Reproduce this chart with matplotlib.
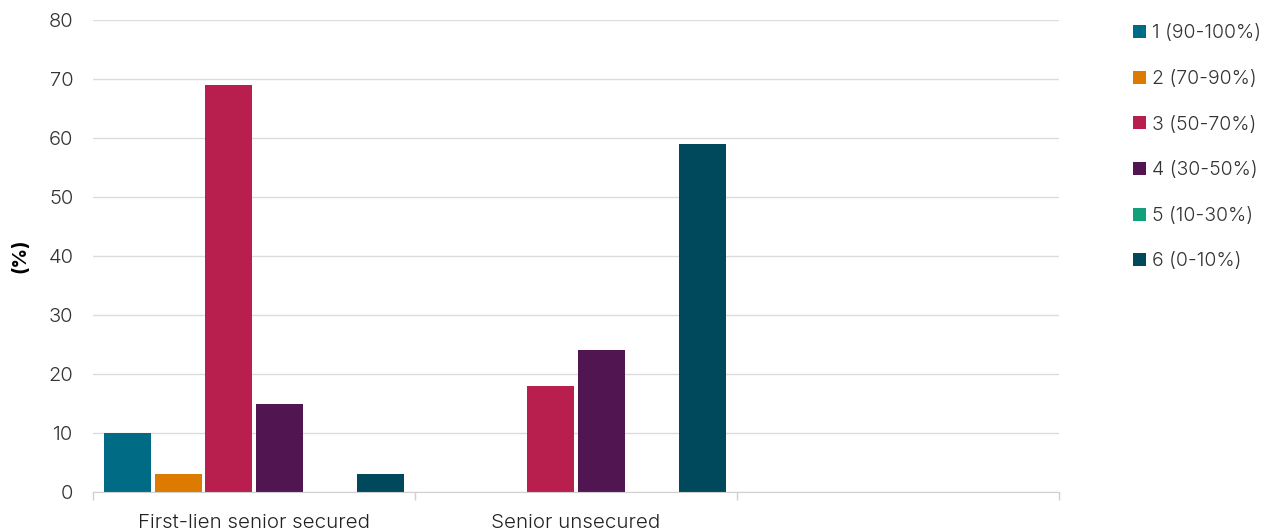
import matplotlib.pyplot as plt
import numpy as np

# recovery rating distribution by debt type
categories = ["First-lien senior secured", "Senior unsecured", ""]
series_names = ["1 (90-100%)", "2 (70-90%)", "3 (50-70%)", "4 (30-50%)", "5 (10-30%)", "6 (0-10%)"]
series_values = [
    [10, 0, 0],
    [3, 0, 0],
    [69, 18, 0],
    [15, 24, 0],
    [0, 0, 0],
    [3, 59, 0],
]
colors = ["#006b84", "#dd7a00", "#b81f4f", "#511552", "#11a07a", "#00495c"]
y_ticks = [0, 10, 20, 30, 40, 50, 60, 70, 80]

plt.rcParams["font.family"] = ["Inter", "DejaVu Sans"]
plt.rcParams["font.weight"] = 300

fig = plt.figure(figsize=(12.62, 5.31), dpi=100)
ax = fig.add_axes([0.0737, 0.0734, 0.7654, 0.8889])

x = np.arange(len(categories))
step = 0.157
width = 0.146
for i, (name, vals) in enumerate(zip(series_names, series_values)):
    offset = (i - 2.5) * step
    ax.bar(x + offset, vals, width=width, color=colors[i], label=name, zorder=3)

ax.set_xlim(-0.5, len(categories) - 0.5)
ax.set_ylim(0, 80)
ax.set_yticks(y_ticks)
ax.grid(axis="y", color="#dcdcdc", linewidth=1, zorder=0)
ax.tick_params(axis="y", length=0, labelsize=14.5, labelcolor="#333333", pad=14)

ax.set_xticks(x)
ax.set_xticklabels(categories, fontsize=14.8, color="#222222")
ax.set_xticks(np.arange(len(categories) + 1) - 0.5, minor=True)
ax.tick_params(axis="x", which="major", length=0, pad=16)
ax.tick_params(axis="x", which="minor", length=6, color="#d0d0d0", width=1)

for side in ["left", "right", "top"]:
    ax.spines[side].set_visible(False)
ax.spines["bottom"].set_color("#d0d0d0")
ax.spines["bottom"].set_zorder(4)

ax.set_ylabel("(%)", fontsize=14, fontweight="bold", labelpad=14)

fig.legend(
    loc="upper left",
    bbox_to_anchor=(0.884, 0.987),
    frameon=False,
    fontsize=14,
    handlelength=0.65,
    handleheight=0.65,
    handletextpad=0.3,
    labelspacing=1.42,
    labelcolor="#333333",
)

fig.savefig("out.png", dpi=100)
